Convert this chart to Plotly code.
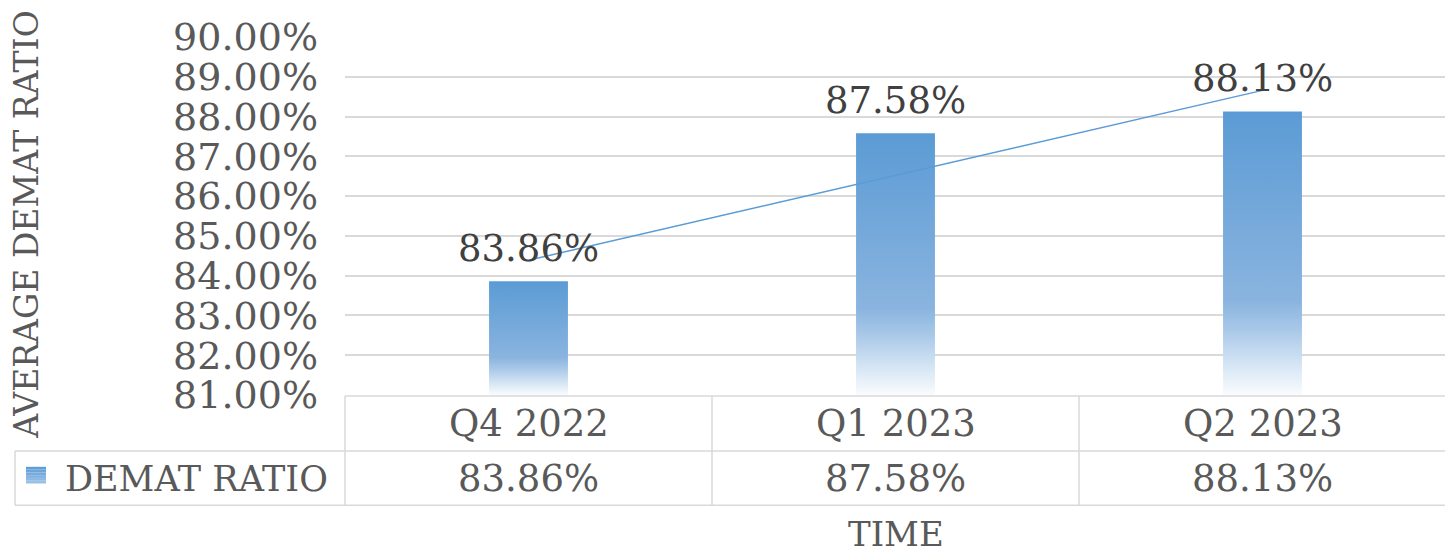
import numpy as np
import plotly.graph_objects as go

# ---- data ----
categories = ["Q4 2022", "Q1 2023", "Q2 2023"]
demat_ratio = [83.86, 87.58, 88.13]
series_name = "DEMAT RATIO"
y_title = "AVERAGE DEMAT RATIO"
x_title = "TIME"
y_min, y_max = 81, 90

# ---- style / geometry (screen pixels; the page body adds an 8px offset) ----
FONT = "DejaVu Serif"
TXT = "#595959"
GRID = "#D9D9D9"
OFF = 8
W, H = 1453 - OFF, 555 - OFF
PLOT_L, PLOT_R, PLOT_T, PLOT_B = 345, 1446, 31, 395   # screen coords
ML = PLOT_L - OFF
MR = W - (PLOT_R - OFF)
MT = PLOT_T - OFF
MB = H - (PLOT_B - OFF)
PW, PH = W - ML - MR, H - MT - MB
BAR_W = 0.215


def px(xs):
    return (xs - PLOT_L) / PW


def py(ys):
    return (PLOT_B - ys) / PH


colorscale = [[0.0, "#FAFCFE"], [0.12, "#D0E2F3"], [0.23, "#A9C8E8"],
              [0.33, "#8AB4DF"], [1.0, "#5B9BD5"]]

fig = go.Figure()
idx = np.arange(len(categories))
# gradient-filled bars
for i, (cat, v) in enumerate(zip(categories, demat_ratio)):
    x0, x1 = i - BAR_W / 2, i + BAR_W / 2
    fig.add_trace(go.Scatter(
        x=[x0, x1, x1, x0, x0], y=[y_min, y_min, v, v, y_min],
        mode="lines", fill="toself", line=dict(width=0, color="rgba(0,0,0,0)"),
        fillgradient=dict(type="vertical", colorscale=colorscale),
        name=series_name, hoverinfo="skip", showlegend=False))

# linear trendline (least-squares fit of the series)
slope, intercept = np.polyfit(idx, demat_ratio, 1)
trend = slope * idx + intercept
fig.add_trace(go.Scatter(x=idx, y=trend, mode="lines",
                         line=dict(color="#5B9BD5", width=1.5),
                         hoverinfo="skip", showlegend=False))

annotations = []
# data labels
for i, v in enumerate(demat_ratio):
    annotations.append(dict(x=i, y=v, xref="x", yref="y", text=f"{v:.2f}%",
                            showarrow=False, yanchor="bottom", yshift=9,
                            font=dict(family=FONT, size=37, color="#404040")))
# data table
for i, (cat, v) in enumerate(zip(categories, demat_ratio)):
    annotations.append(dict(x=i, y=py(424), xref="x", yref="paper", text=cat,
                            showarrow=False, yanchor="middle",
                            font=dict(family=FONT, size=37, color=TXT)))
    annotations.append(dict(x=i, y=py(480), xref="x", yref="paper", text=f"{v:.2f}%",
                            showarrow=False, yanchor="middle",
                            font=dict(family=FONT, size=37, color=TXT)))
annotations.append(dict(x=px(196), y=py(480), xref="paper", yref="paper", text=series_name,
                        showarrow=False, yanchor="middle", xanchor="center",
                        font=dict(family=FONT, size=35, color=TXT)))
# axis titles
annotations.append(dict(x=0.5, y=py(536), xref="paper", yref="paper",
                        text=x_title, showarrow=False, yanchor="middle",
                        font=dict(family=FONT, size=34, color=TXT)))
annotations.append(dict(x=px(27), y=py(222), xref="paper", yref="paper", text=y_title,
                        textangle=-90, showarrow=False, xanchor="center", yanchor="middle",
                        font=dict(family=FONT, size=33, color=TXT)))

shapes = []
line = dict(color=GRID, width=1.5)
# horizontal table lines
shapes.append(dict(type="line", xref="paper", yref="paper", x0=0, x1=1,
                   y0=py(396), y1=py(396), line=line))
for yy in (452, 507):
    shapes.append(dict(type="line", xref="paper", yref="paper", x0=px(15), x1=1,
                       y0=py(yy), y1=py(yy), line=line))
# vertical table lines
shapes.append(dict(type="line", xref="paper", yref="paper", x0=px(15), x1=px(15),
                   y0=py(452), y1=py(507), line=line))
for xx in (0, 1):
    shapes.append(dict(type="line", xref="paper", yref="paper", x0=xx, x1=xx,
                       y0=py(396), y1=py(507), line=line))
for i in range(1, len(categories)):
    shapes.append(dict(type="line", xref="x", yref="paper", x0=i - 0.5, x1=i - 0.5,
                       y0=py(396), y1=py(507), line=line))
# legend key swatch (small gradient square)
S = 6
for k in range(S):
    y0 = 485 - k * 17 / S
    y1 = 485 - (k + 1) * 17 / S
    t = (k + 0.5) / S
    r = round(160 + (91 - 160) * t)
    g = round(196 + (155 - 196) * t)
    b = round(232 + (213 - 232) * t)
    shapes.append(dict(type="rect", xref="paper", yref="paper", x0=px(26), x1=px(46),
                       y0=py(y0), y1=py(y1) , fillcolor=f"rgb({r},{g},{b})",
                       line=dict(width=0)))

fig.update_layout(
    width=W, height=H,
    margin=dict(l=ML, r=MR, t=MT, b=MB),
    paper_bgcolor="white", plot_bgcolor="white",
    showlegend=False,
    font=dict(family=FONT, color=TXT),
    xaxis=dict(range=[-0.5, len(categories) - 0.5], tickvals=list(idx), ticktext=categories,
               showticklabels=False, showgrid=False, zeroline=False, showline=False, ticks=""),
    yaxis=dict(range=[y_min, y_max], dtick=1, tickformat=".2f", ticksuffix="%",
               showgrid=True, gridcolor=GRID, gridwidth=1.5, zeroline=False,
               showline=False, ticks="", ticklabelstandoff=26,
               tickfont=dict(family=FONT, size=38, color=TXT)),
    annotations=annotations, shapes=shapes,
)

fig.write_html("out.html")
